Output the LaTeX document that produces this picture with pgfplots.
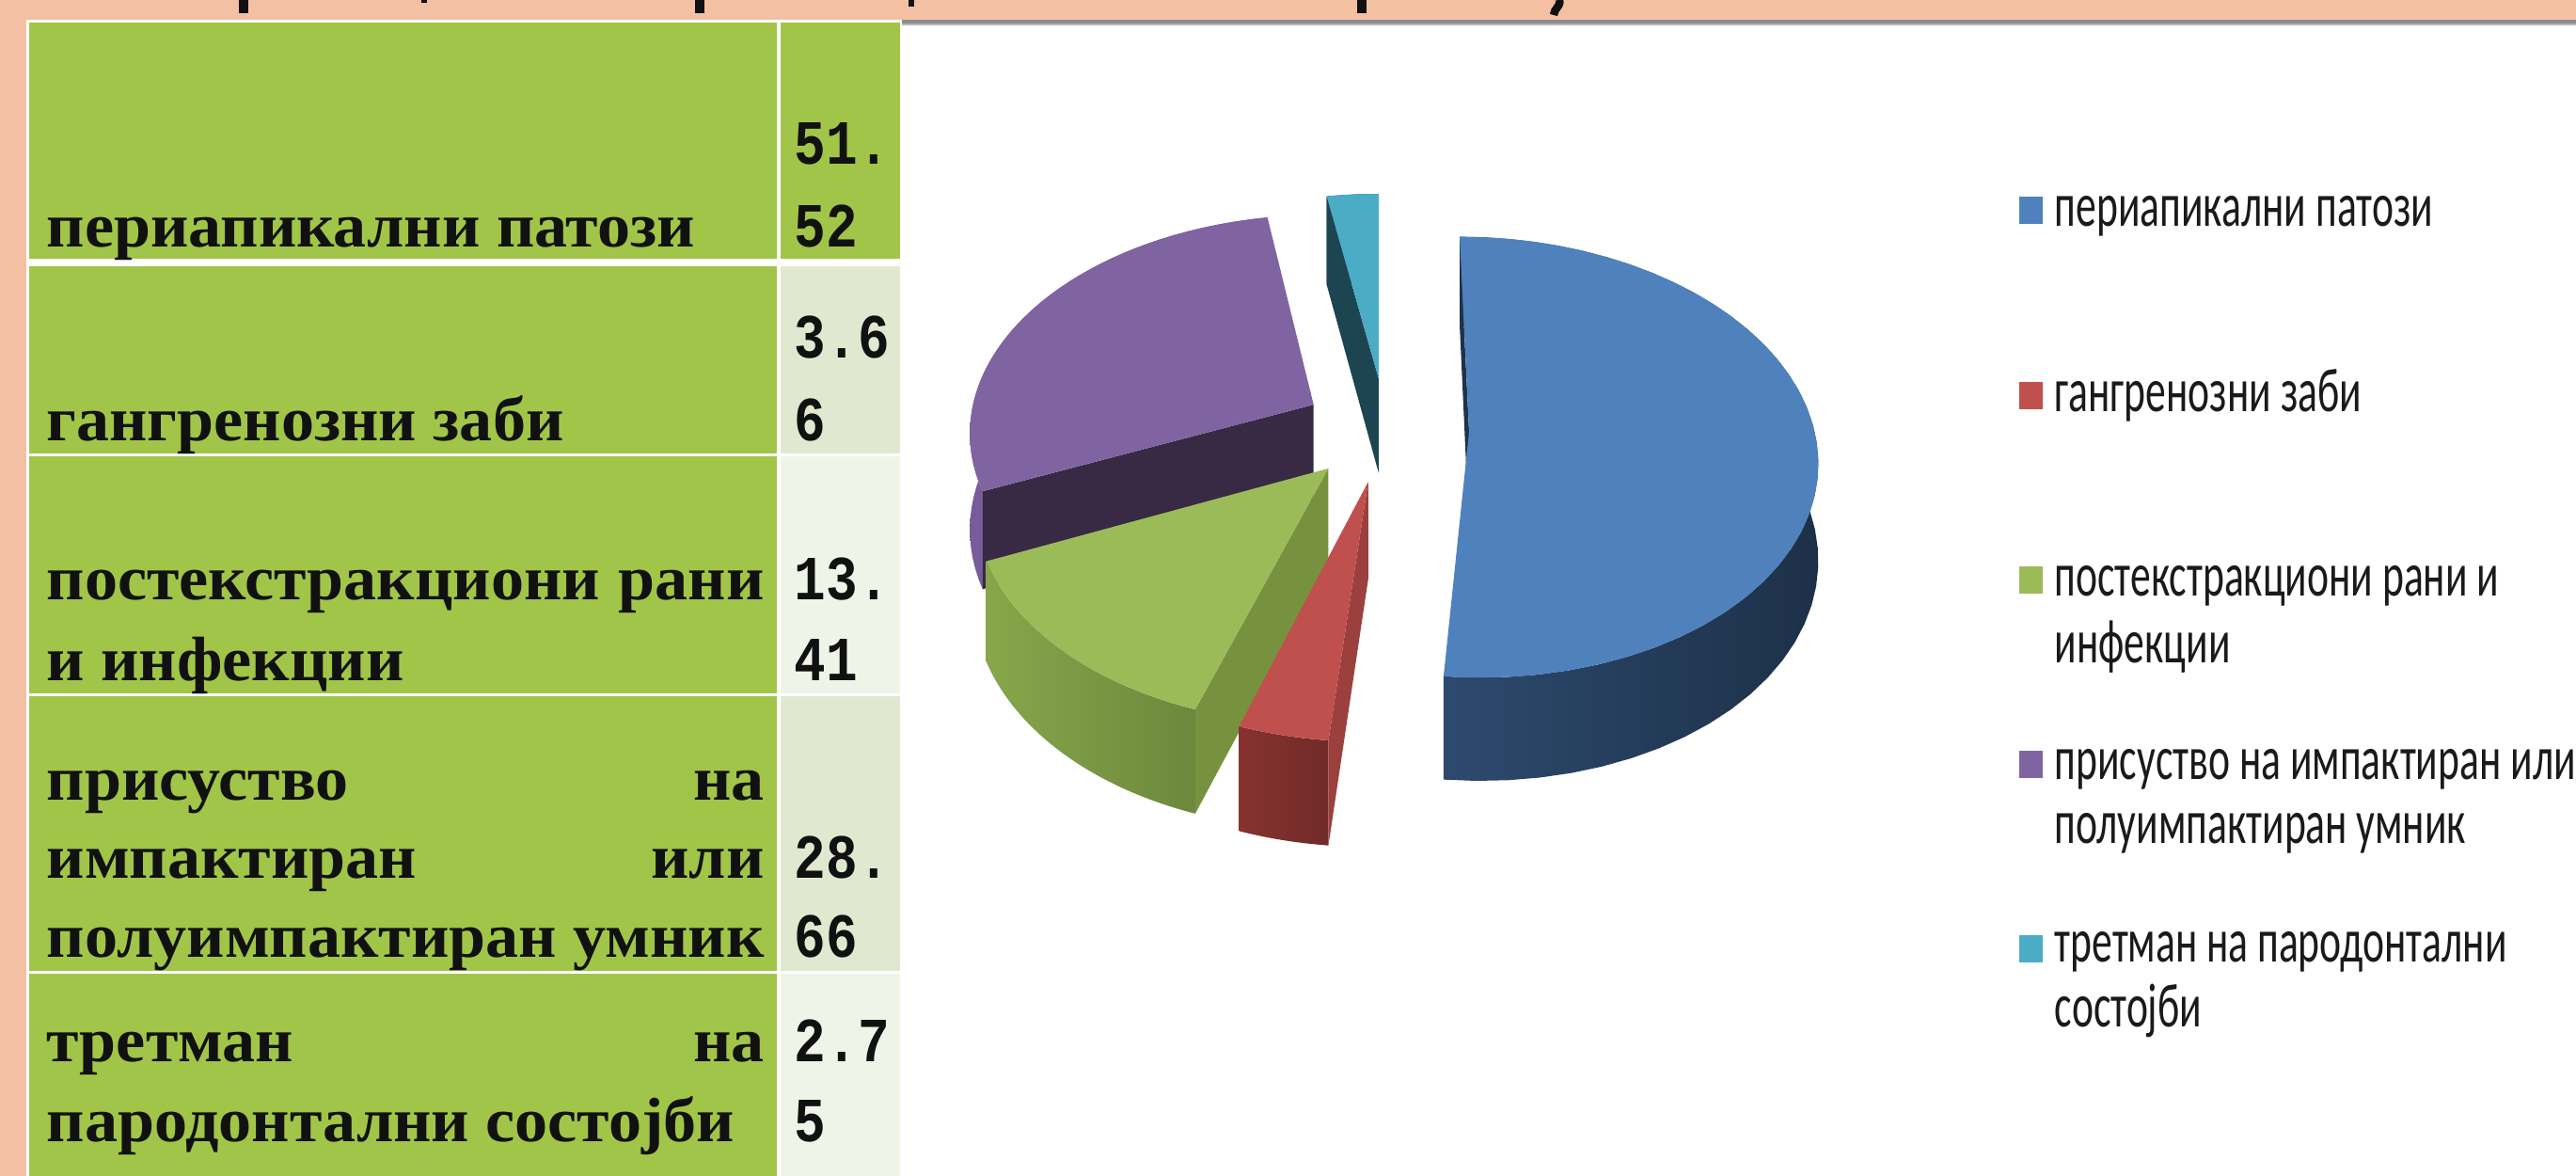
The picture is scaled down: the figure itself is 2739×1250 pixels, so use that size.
\documentclass[border=0pt]{standalone}
\usepackage{pgfplots}
\pgfplotsset{compat=1.18}
\usepackage{pgfplotstable}
\usepackage{fontspec}
\setmainfont{Liberation Serif}
\newfontfamily\tabfont{Liberation Serif}[FakeStretch=1.05]
\newfontfamily\numfont{Liberation Mono}[FakeStretch=0.84]
\newfontfamily\legfont{Carlito}[FakeStretch=0.66]

\definecolor{pkL}{HTML}{F4C0A3}
\definecolor{pkM}{HTML}{FDD1BA}
\definecolor{pkR}{HTML}{F2C1A2}
\definecolor{tgreen}{HTML}{A1C548}
\definecolor{tlight}{HTML}{E0E9CF}
\definecolor{tpale}{HTML}{EFF4E8}
\definecolor{txt}{HTML}{111111}
\definecolor{legtxt}{HTML}{1A1A1A}
\definecolor{cBlue}{HTML}{4F81BD}
\definecolor{cBlueD}{HTML}{1E3249}
\definecolor{cBlueSL}{HTML}{2D4A6E}
\definecolor{cBlueSR}{HTML}{1D3048}
\definecolor{cRed}{HTML}{C0504D}
\definecolor{cRedD}{HTML}{9B403D}
\definecolor{cRedSL}{HTML}{86332F}
\definecolor{cRedSR}{HTML}{712A28}
\definecolor{cGreen}{HTML}{9BBB59}
\definecolor{cGreenD}{HTML}{77923F}
\definecolor{cGreenSL}{HTML}{88A64B}
\definecolor{cGreenSR}{HTML}{6C883C}
\definecolor{cPurple}{HTML}{8064A2}
\definecolor{cPurpleD}{HTML}{382944}
\definecolor{cPurpleS}{HTML}{785C99}
\definecolor{cAqua}{HTML}{4BACC6}
\definecolor{cAquaD}{HTML}{1D4551}
\definecolor{gbar}{HTML}{8C8C8C}
\definecolor{gbar2}{HTML}{B8B8B8}

% projection constants (pixel units of the 2739x1250 picture)
\def\pU{1466}\def\pXC{-0.0205}\def\pSX{367}\def\pG{0.115}
\def\pV{456.3}\def\pSY{230.6}\def\pE{0.241}\def\pD{102}\def\pGD{0.07}

\newcommand\slice[7]{%
 \addplot[draw=none, left color=#3, right color=#4, domain=0:1, samples=81, variable=\t]
   ({PX(CX(#7)+cos(SANG(\t,#5,#6)),CZ(#7)+sin(SANG(\t,#5,#6)))},
    {PY(CZ(#7)+sin(SANG(\t,#5,#6)))+SB(\t)*DEP(CZ(#7)+sin(SANG(\t,#5,#6)))});
 \addplot[draw=none, fill=#2, domain=0:1, samples=4, variable=\t]
   ({PX(CX(#7)+RF(\t)*cos(#5),CZ(#7)+RF(\t)*sin(#5))},
    {PY(CZ(#7)+RF(\t)*sin(#5))+RB(\t)*DEP(CZ(#7)+RF(\t)*sin(#5))});
 \addplot[draw=none, fill=#1, domain=0:1, samples=62, variable=\t]
   ({PX(CX(#7)+RR(\t)*cos(ANG(\t,#5,#6)),CZ(#7)+RR(\t)*sin(ANG(\t,#5,#6)))},
    {PY(CZ(#7)+RR(\t)*sin(ANG(\t,#5,#6)))});
}

\pgfplotstableread{
idx value
1 51.52
2 3.66
3 13.41
4 28.66
5 2.75
}\piedata

\tikzset{
 tab/.style={anchor=base west, inner sep=0pt, text=txt, font=\fontsize{19pt}{22pt}\tabfont\bfseries},
 num/.style={anchor=base west, inner sep=0pt, text=txt, font=\fontsize{19pt}{22pt}\numfont\bfseries},
 leg/.style={anchor=base west, inner sep=0pt, text=legtxt, font=\fontsize{18.8pt}{22pt}\legfont},
}

\begin{document}%
\begin{tikzpicture}
\pgfplotstablegetelem{0}{value}\of\piedata\let\vA\pgfplotsretval
\pgfplotstablegetelem{1}{value}\of\piedata\let\vB\pgfplotsretval
\pgfplotstablegetelem{2}{value}\of\piedata\let\vC\pgfplotsretval
\pgfplotstablegetelem{3}{value}\of\piedata\let\vD\pgfplotsretval
\pgfplotstablegetelem{4}{value}\of\piedata\let\vE\pgfplotsretval
\pgfmathsetmacro\aA{90}
\pgfmathsetmacro\aB{\aA-3.6*\vA}
\pgfmathsetmacro\aC{\aB-3.6*\vB}
\pgfmathsetmacro\aD{\aC-3.6*\vC}
\pgfmathsetmacro\aE{\aD-3.6*\vD}
\pgfmathsetmacro\aF{\aE-3.6*\vE}
\pgfmathsetmacro\mA{(\aA+\aB)/2}
\pgfmathsetmacro\mB{(\aB+\aC)/2}
\pgfmathsetmacro\mC{(\aC+\aD)/2}
\pgfmathsetmacro\mD{(\aD+\aE)/2}
\pgfmathsetmacro\mE{(\aE+\aF)/2}
\begin{axis}[
  width=27.39cm, height=12.5cm, scale only axis,
  xmin=0, xmax=2739, ymin=0, ymax=1250, y dir=reverse,
  axis lines=none, ticks=none, clip=false, no markers,
  declare function={
    CX(\m)=\pE*cos(\m);
    CZ(\m)=\pE*sin(\m);
    PX(\a,\b)=\pU+\pSX*((\a)-(\pXC))/(1+\pG*(\b));
    PY(\b)=\pV-\pSY*(\b)/(1+\pG*(\b));
    DEP(\b)=\pD/(1+\pGD*(\b));
    RR(\s)=(\s<0.008)?0:1;
    ANG(\s,\p,\q)=(\p)+((\q)-(\p))*(\s*61-1)/60;
    SANG(\s,\p,\q)=(\s<0.50001)?((\p)+((\q)-(\p))*2*\s):((\q)-((\q)-(\p))*(80*\s-41)/39);
    SB(\s)=(\s<0.50001)?0:1;
    RF(\s)=((\s>0.2)&&(\s<0.8))?1:0;
    RB(\s)=(\s>0.5)?1:0;
  },
]
% background
\shade[left color=pkL, middle color=pkM, right color=pkR] (0,0) rectangle (2739,1250);
\fill[white] (958,21) rectangle (2739,1250);
\fill[gbar] (958,21) rectangle (2739,25.5);
\fill[gbar2] (958,25.5) rectangle (2739,27.5);
% cut-off title strokes
\draw[txt, line width=2.6pt] (259,0) -- (259,14);
\draw[txt, line width=2.6pt] (744,0) -- (744,14);
\draw[txt, line width=2.6pt] (1448,0) -- (1448,14);
\draw[txt, line width=2.4pt] (1658,0) .. controls (1660,7) and (1652,9) .. (1652,16);
\draw[txt, line width=1.5pt] (451,0) -- (451,3);
\draw[txt, line width=1.5pt] (969,0) -- (969,7);
% table
\fill[white] (28,21) rectangle (959,1250);
\fill[tgreen] (31,24) rectangle (826,275);
\fill[tgreen] (830,24) rectangle (957,275);
\fill[tgreen] (31,283) rectangle (826,482);
\fill[tlight] (830,283) rectangle (957,482);
\fill[tgreen] (31,485) rectangle (826,737);
\fill[tpale] (830,485) rectangle (957,737);
\fill[tgreen] (31,740) rectangle (826,1032);
\fill[tlight] (830,740) rectangle (957,1032);
\fill[tgreen] (31,1035) rectangle (826,1250);
\fill[tpale] (830,1035) rectangle (957,1250);

\node[tab] at (49,263) {периапикални патози};
\node[tab] at (49,468) {гангренозни заби};
\node[tab] at (49,637) {\hbox to 7.63cm{постекстракциони\hfill рани}};
\node[tab] at (49,723) {и инфекции};
\node[tab] at (49,850) {\hbox to 7.63cm{присуство\hfill на}};
\node[tab] at (49,933) {\hbox to 7.63cm{импактиран\hfill или}};
\node[tab] at (49,1017) {полуимпактиран умник};
\node[tab] at (49,1128) {\hbox to 7.63cm{третман\hfill на}};
\node[tab] at (49,1213) {пародонтални состојби};

\node[num] at (844,175) {51.};
\node[num] at (844,263) {52};
\node[num] at (844,380) {3.6};
\node[num] at (844,468) {6};
\node[num] at (844,637) {13.};
\node[num] at (844,723) {41};
\node[num] at (844,933) {28.};
\node[num] at (844,1017) {66};
\node[num] at (844,1128) {2.7};
\node[num] at (844,1213) {5};

% exploded 3-D pie
\slice{cAqua}{cAquaD}{cAquaD}{cAquaD}{\aE}{\aF}{\mE}
\slice{cPurple}{cPurpleD}{cPurpleS}{cPurpleS}{\aD}{\aE}{\mD}
\slice{cGreen}{cGreenD}{cGreenSL}{cGreenSR}{\aC}{\aD}{\mC}
\slice{cRed}{cRedD}{cRedSL}{cRedSR}{\aB}{\aC}{\mB}
\slice{cBlue}{cBlueD}{cBlueSL}{cBlueSR}{\aA}{\aB}{\mA}

% legend
\fill[cBlue] (2147,209) rectangle (2172,238);
\fill[cRed] (2147,406) rectangle (2172,435);
\fill[cGreen] (2147,602) rectangle (2172,631);
\fill[cPurple] (2147,798) rectangle (2172,827);
\fill[cAqua] (2147,994) rectangle (2172,1023);
\node[leg] at (2184,241) {периапикални патози};
\node[leg] at (2184,437) {гангренозни заби};
\node[leg] at (2184,633) {постекстракциони рани и};
\node[leg] at (2184,704) {инфекции};
\node[leg] at (2184,828) {присуство на импактиран или};
\node[leg] at (2184,896) {полуимпактиран умник};
\node[leg] at (2184,1022) {третман на пародонтални};
\node[leg] at (2184,1091) {состојби};
\end{axis}
\pgfresetboundingbox
\path[use as bounding box] (current axis.south west) rectangle (current axis.north east);
\end{tikzpicture}%
\end{document}
